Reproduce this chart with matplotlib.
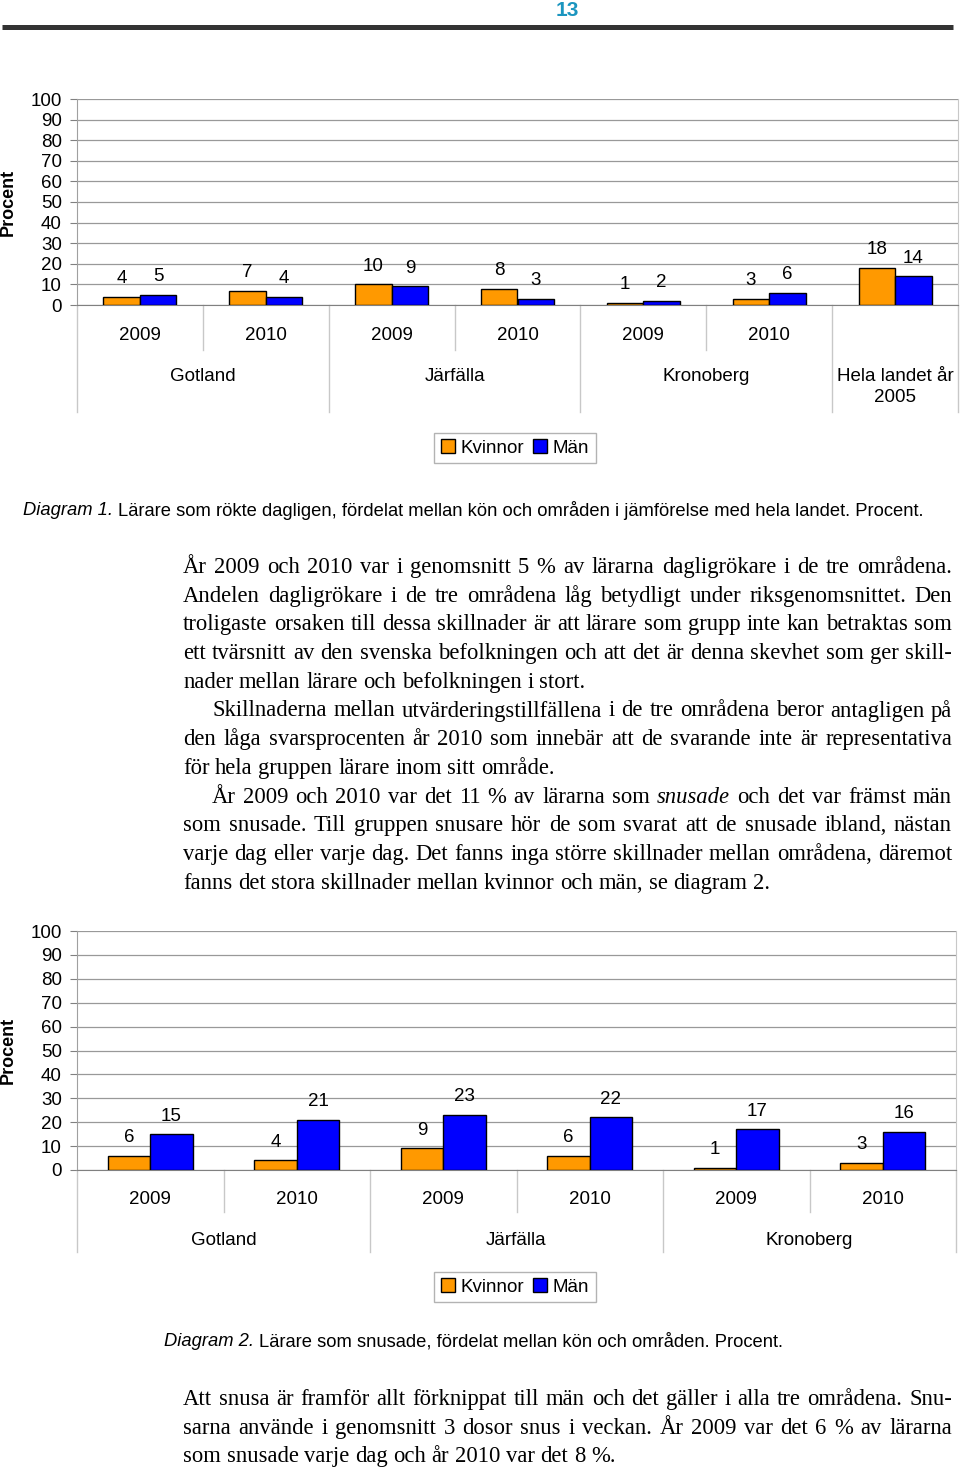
import matplotlib
matplotlib.use("Agg")
import matplotlib.pyplot as plt
from matplotlib.patches import Patch
from matplotlib.lines import Line2D
from matplotlib.transforms import blended_transform_factory
import numpy as np

W, H = 960, 1472

# --- data: diagram 1 (daily smokers) ---
years1 = ['2009', '2010', '2009', '2010', '2009', '2010', '']
groups1 = ['Gotland', 'Järfälla', 'Kronoberg', 'Hela landet år\n2005']
group_sizes1 = [2, 2, 2, 1]
kvinnor1 = [4, 7, 10, 8, 1, 3, 18]
man1 = [5, 4, 9, 3, 2, 6, 14]

# --- data: diagram 2 (snus) ---
years2 = ['2009', '2010', '2009', '2010', '2009', '2010']
groups2 = ['Gotland', 'Järfälla', 'Kronoberg']
group_sizes2 = [2, 2, 2]
kvinnor2 = [6, 4, 9, 6, 1, 3]
man2 = [15, 21, 23, 22, 17, 16]

yticks = list(range(0, 101, 10))
series_names = ['Kvinnor', 'Män']
colors = ['#ff9900', '#0000ff']

caption1 = [('Diagram 1.', 'italic'),
            ('Lärare som rökte dagligen, fördelat mellan kön och områden i jämförelse med hela landet. Procent.', 'normal')]
caption2 = [('Diagram 2.', 'italic'),
            ('Lärare som snusade, fördelat mellan kön och områden. Procent.', 'normal')]

# body text: (text, indent, justify)
body1 = [
    ('År 2009 och 2010 var i genomsnitt 5 % av lärarna dagligrökare i de tre områdena.', False, True),
    ('Andelen dagligrökare i de tre områdena låg betydligt under riksgenomsnittet. Den', False, True),
    ('troligaste orsaken till dessa skillnader är att lärare som grupp inte kan betraktas som', False, True),
    ('ett tvärsnitt av den svenska befolkningen och att det är denna skevhet som ger skill-', False, True),
    ('nader mellan lärare och befolkningen i stort.', False, False),
    ('Skillnaderna mellan utvärderingstillfällena i de tre områdena beror antagligen på', True, True),
    ('den låga svarsprocenten år 2010 som innebär att de svarande inte är representativa', False, True),
    ('för hela gruppen lärare inom sitt område.', False, False),
    ('År 2009 och 2010 var det 11 % av lärarna som *snusade* och det var främst män', True, True),
    ('som snusade. Till gruppen snusare hör de som svarat att de snusade ibland, nästan', False, True),
    ('varje dag eller varje dag. Det fanns inga större skillnader mellan områdena, däremot', False, True),
    ('fanns det stora skillnader mellan kvinnor och män, se diagram 2.', False, False),
]
body2 = [
    ('Att snusa är framför allt förknippat till män och det gäller i alla tre områdena. Snu-', False, True),
    ('sarna använde i genomsnitt 3 dosor snus i veckan. År 2009 var det 6 % av lärarna', False, True),
    ('som snusade varje dag och år 2010 var det 8 %.', False, False),
]

plt.rcParams['font.family'] = ['Liberation Sans', 'DejaVu Sans']

fig = plt.figure(figsize=(W / 100, H / 100), dpi=100)
renderer = fig.canvas.get_renderer()


def fx(px):
    return px / W


def fy(py):
    return 1 - py / H


def draw_chart(left, right, top, bottom, kv, mn, years, groups, sizes,
               year_y, group_y, year_sep, group_sep, legend_y):
    ax = fig.add_axes([fx(left), fy(bottom), fx(right) - fx(left), (bottom - top) / H])
    n = len(kv)
    x = np.arange(n)
    w = 0.29
    ax.bar(x - w / 2, kv, w, color=colors[0], edgecolor='black', linewidth=1, zorder=3)
    ax.bar(x + w / 2, mn, w, color=colors[1], edgecolor='black', linewidth=1, zorder=3)
    for xi, v in zip(x - w / 2, kv):
        ax.annotate(str(v), (xi, v), xytext=(0, 13), textcoords='offset points',
                    ha='center', va='center', fontsize=13.5)
    for xi, v in zip(x + w / 2, mn):
        ax.annotate(str(v), (xi, v), xytext=(0, 13), textcoords='offset points',
                    ha='center', va='center', fontsize=13.5)

    ax.set_xlim(-0.5, n - 0.5)
    ax.set_ylim(0, 100)
    ax.set_yticks(yticks)
    ax.set_xticks([])
    ax.tick_params(axis='y', length=5, color='#808080', labelsize=13.5, pad=6)
    ax.yaxis.grid(True, color='#999999', linewidth=0.9)
    ax.set_axisbelow(True)
    ax.spines['top'].set_visible(False)
    ax.spines['left'].set_color('#a0a0a0')
    ax.spines['right'].set_color('#c8c8c8')
    ax.spines['bottom'].set_color('#808080')

    tr = blended_transform_factory(ax.transData, fig.transFigure)
    for xi, yr in zip(x, years):
        if yr:
            ax.text(xi, fy(year_y + 2), yr, transform=tr, ha='center', va='center', fontsize=13.5)
    start = 0
    for g, s in zip(groups, sizes):
        gx = start + (s - 1) / 2
        if '\n' in g:
            ax.text(gx, fy(group_y + 13), g, transform=tr, ha='center', va='center',
                    fontsize=13.5, linespacing=1.35)
        else:
            ax.text(gx, fy(group_y + 2.5), g, transform=tr, ha='center', va='center', fontsize=13.5)
        ax.plot([start - 0.5] * 2, [fy(bottom), fy(group_sep)], transform=tr,
                color='#c8c8c8', lw=1, clip_on=False)
        if s == 2:
            ax.plot([start + 0.5] * 2, [fy(bottom), fy(year_sep)], transform=tr,
                    color='#c8c8c8', lw=1, clip_on=False)
        start += s
    ax.plot([n - 0.5] * 2, [fy(bottom), fy(group_sep)], transform=tr,
            color='#c8c8c8', lw=1, clip_on=False)

    fig.text(fx(8), fy((top + bottom) / 2), 'Procent', rotation=90, ha='center', va='center',
             fontsize=13, fontweight='bold')

    handles = [Patch(facecolor=c, edgecolor='black', label=l) for c, l in zip(colors, series_names)]
    leg = ax.legend(handles=handles, loc='center', bbox_to_anchor=(fx(515), fy(legend_y)),
                    bbox_transform=fig.transFigure, ncol=2, fontsize=13.5, frameon=True,
                    fancybox=False, handlelength=0.75, handleheight=0.75, handletextpad=0.3,
                    columnspacing=0.5, borderpad=0.35)
    leg.get_frame().set_edgecolor('#a0a0a0')
    leg.get_frame().set_linewidth(1)
    return ax


draw_chart(77, 958, 99, 305, kvinnor1, man1, years1, groups1, group_sizes1,
           333, 374, 350, 412, 448)
draw_chart(77, 956, 931, 1170, kvinnor2, man2, years2, groups2, group_sizes2,
           1198, 1238, 1212, 1252, 1287)

# page header
fig.text(fx(567), fy(11), '13', color='#1b95bf', fontsize=15, fontweight='bold',
         ha='center', va='center')
fig.add_artist(Line2D([fx(2), fx(953)], [fy(26.5)] * 2, lw=3.6, color='#333333',
                      solid_capstyle='butt'))


def caption(parts, x0, x1, py):
    base = 10
    texts = []
    widths = []
    for s, st in parts:
        t = fig.text(0, fy(py), s, fontsize=base, style=st, va='center', ha='left')
        texts.append(t)
        widths.append(t.get_window_extent(renderer).width)
    space = 0.278 * base * 100 / 72
    total = sum(widths) + space * (len(parts) - 1)
    size = base * (x1 - x0) / total
    k = size / base
    x = x0
    for t, wd in zip(texts, widths):
        t.set_fontsize(size)
        t.set_x(fx(x))
        x += wd * k + space * k


caption(caption1, 23, 928, 510)
caption(caption2, 164, 785, 1342)

BODY_SIZE = 16.3


def body_line(text, x0, x1, py, justify):
    words = []
    for wd in text.split(' '):
        if wd.startswith('*') and wd.endswith('*'):
            words.append((wd.strip('*'), 'italic'))
        else:
            words.append((wd, 'normal'))
    texts, widths = [], []
    for s, st in words:
        t = fig.text(0, fy(py + 6), s, fontsize=BODY_SIZE, family='Liberation Serif',
                     style=st, va='baseline', ha='left')
        texts.append(t)
        widths.append(t.get_window_extent(renderer).width)
    if justify and len(words) > 1:
        gap = (x1 - x0 - sum(widths)) / (len(words) - 1)
    else:
        gap = 0.25 * BODY_SIZE * 100 / 72
    x = x0
    for t, wd in zip(texts, widths):
        t.set_x(fx(x))
        x += wd + gap


def paragraph(lines, py0, step=28.7):
    for i, (text, indent, justify) in enumerate(lines):
        x0 = 212 if indent else 183
        body_line(text, x0, 952, py0 + i * step, justify)


paragraph(body1, 567)
paragraph(body2, 1399)

fig.savefig('out.png', dpi=100)
